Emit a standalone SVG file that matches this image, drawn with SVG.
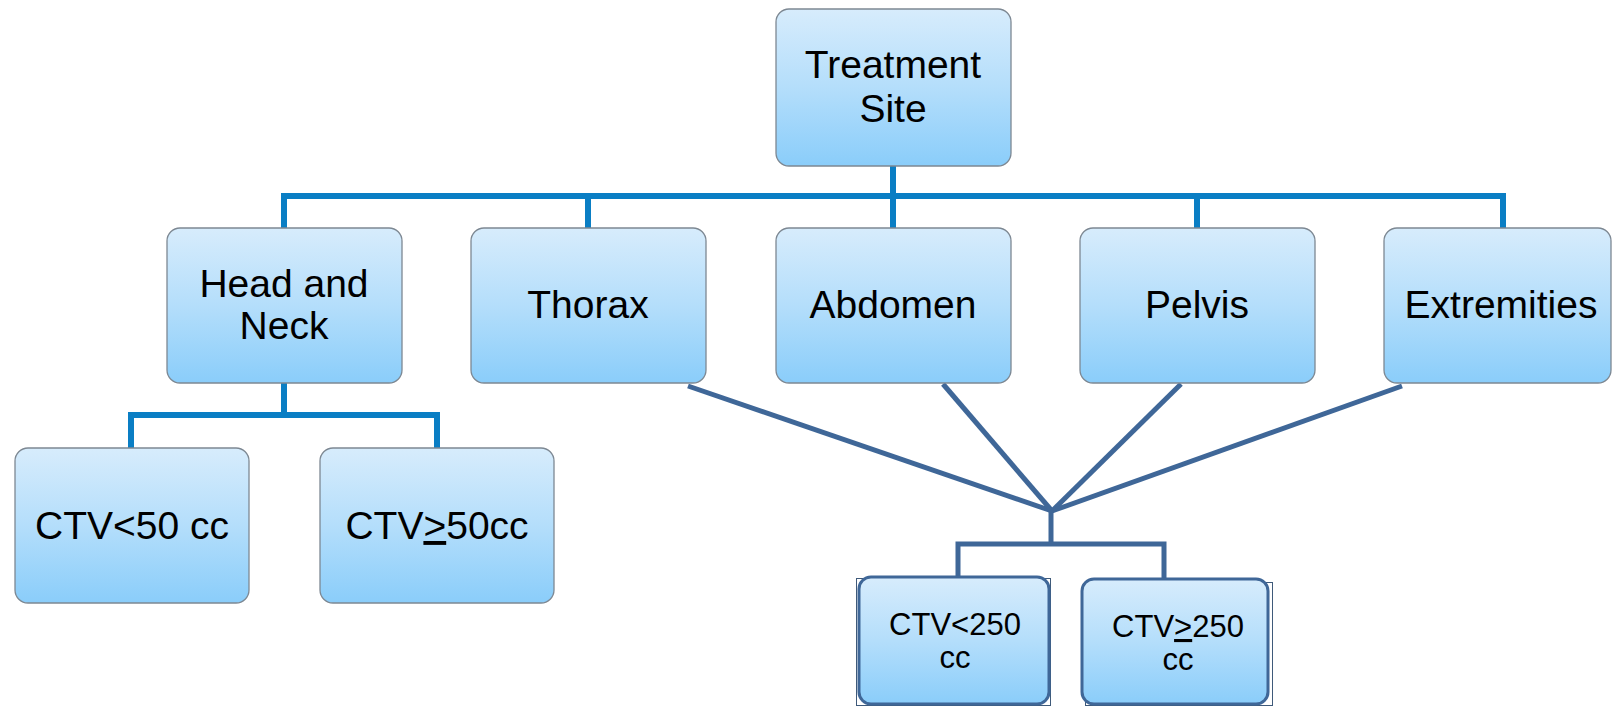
<svg xmlns="http://www.w3.org/2000/svg" width="1612" height="706" viewBox="0 0 1612 706">
  <defs>
    <linearGradient id="boxFill" x1="0" y1="0" x2="0" y2="1">
      <stop offset="0" stop-color="#d7ecfc"/>
      <stop offset="0.5" stop-color="#b4defb"/>
      <stop offset="1" stop-color="#8acdfa"/>
    </linearGradient>
    <style>
      .box { fill: url(#boxFill); stroke: #7d8893; stroke-width: 1.3; }
      .boxDark { fill: url(#boxFill); stroke: #3f6798; stroke-width: 3; }
      .frame { fill: none; stroke: #3f5a7a; stroke-width: 1; }
      .lbl { font-family: "Liberation Sans", Arial, sans-serif; font-size: 39px; fill: #000; text-anchor: middle; }
      .lblSm { font-family: "Liberation Sans", Arial, sans-serif; font-size: 31px; fill: #000; text-anchor: middle; }
      .tree { fill: none; stroke: #0a7ec4; stroke-width: 6; stroke-linejoin: miter; stroke-linecap: butt; }
      .merge { fill: none; stroke: #3f6798; stroke-width: 5; stroke-linejoin: miter; stroke-linecap: butt; }
    </style>
  </defs>

  <!-- connectors -->
  <g id="connectors">
    <!-- root to second row -->
    <path class="tree" d="M893 166 V228"/>
    <path class="tree" d="M284 228 V196 H1503 V228"/>
    <path class="tree" d="M588 196 V228"/>
    <path class="tree" d="M1197 196 V228"/>
    <!-- head and neck split -->
    <path class="tree" d="M284 383 V415"/>
    <path class="tree" d="M131 448 V415 H437 V448"/>
    <!-- four sites merging -->
    <path class="merge" d="M688 386 L1052 511"/>
    <path class="merge" d="M943 384 L1052 511"/>
    <path class="merge" d="M1181 384 L1052 511"/>
    <path class="merge" d="M1402 386 L1052 511"/>
    <path class="merge" d="M1051 510 V544"/>
    <path class="merge" d="M958 577 V544 H1164 V579"/>
  </g>

  <g id="node-treatment-site">
    <rect class="box" x="776" y="9" width="235" height="157" rx="13"/>
    <text class="lbl" x="893" y="78">Treatment</text>
    <text class="lbl" x="893" y="122">Site</text>
  </g>

  <g id="node-head-neck">
    <rect class="box" x="167" y="228" width="235" height="155" rx="13"/>
    <text class="lbl" x="284" y="297">Head and</text>
    <text class="lbl" x="284" y="339">Neck</text>
  </g>

  <g id="node-thorax">
    <rect class="box" x="471" y="228" width="235" height="155" rx="13"/>
    <text class="lbl" x="588" y="318">Thorax</text>
  </g>

  <g id="node-abdomen">
    <rect class="box" x="776" y="228" width="235" height="155" rx="13"/>
    <text class="lbl" x="893" y="318">Abdomen</text>
  </g>

  <g id="node-pelvis">
    <rect class="box" x="1080" y="228" width="235" height="155" rx="13"/>
    <text class="lbl" x="1197" y="318">Pelvis</text>
  </g>

  <g id="node-extremities">
    <rect class="box" x="1384" y="228" width="227" height="155" rx="13"/>
    <text class="lbl" x="1501" y="318">Extremities</text>
  </g>

  <g id="node-ctv-lt-50">
    <rect class="box" x="15" y="448" width="234" height="155" rx="13"/>
    <text class="lbl" x="132" y="539">CTV&lt;50 cc</text>
  </g>

  <g id="node-ctv-ge-50">
    <rect class="box" x="320" y="448" width="234" height="155" rx="13"/>
    <text class="lbl" x="437" y="539">CTV<tspan text-decoration="underline">&gt;</tspan>50cc</text>
  </g>

  <g id="node-ctv-lt-250">
    <rect class="frame" x="856.5" y="578.5" width="194" height="127"/>
    <rect class="boxDark" x="859" y="577" width="190" height="127" rx="12"/>
    <text class="lblSm" x="955" y="635">CTV&lt;250</text>
    <text class="lblSm" x="955" y="668">cc</text>
  </g>

  <g id="node-ctv-ge-250">
    <rect class="frame" x="1085.5" y="582.5" width="187" height="123"/>
    <rect class="boxDark" x="1082" y="579" width="186" height="125" rx="12"/>
    <text class="lblSm" x="1178" y="637">CTV<tspan text-decoration="underline">&gt;</tspan>250</text>
    <text class="lblSm" x="1178" y="670">cc</text>
  </g>
</svg>
